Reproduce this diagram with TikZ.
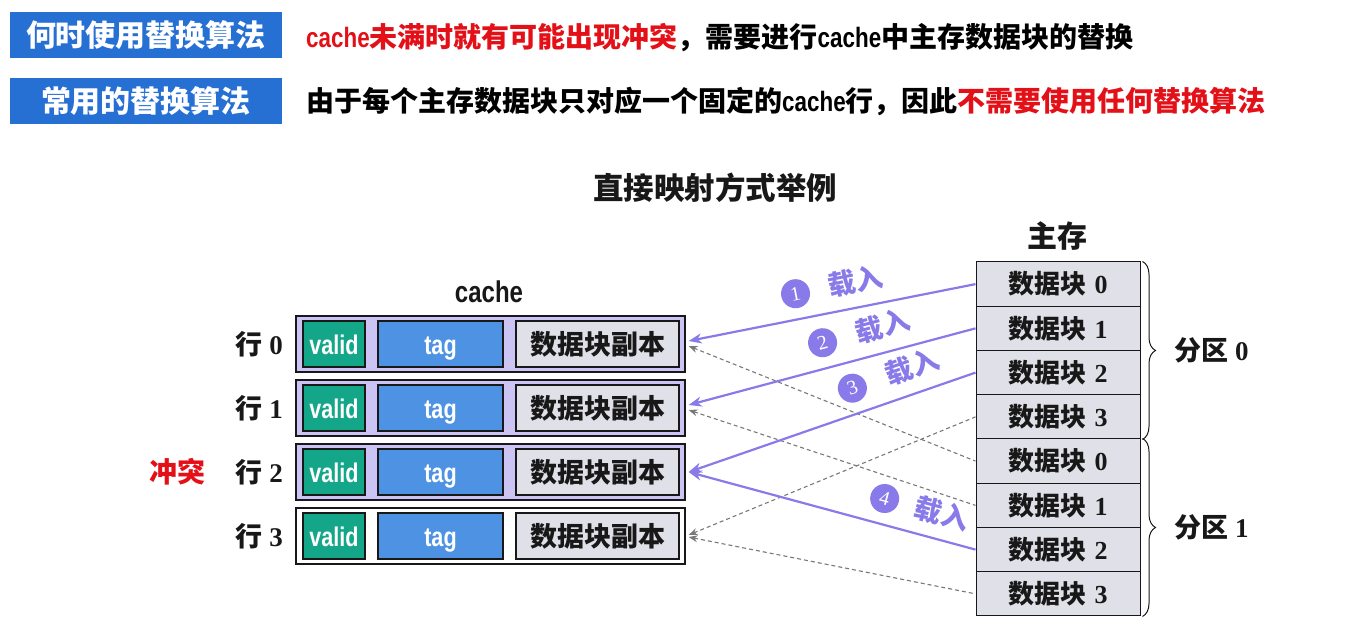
\documentclass[tikz,border=0pt]{standalone}
\usepackage{fontspec}
\setmainfont{Liberation Serif}
\newfontfamily\cjk{Noto Sans CJK SC}
\newfontfamily\narrow{Liberation Sans}[FakeStretch=0.8]
\usetikzlibrary{arrows.meta,decorations.pathreplacing}
\definecolor{bannerblue}{RGB}{38,112,212}
\definecolor{hired}{RGB}{228,16,24}
\definecolor{arrowpurple}{RGB}{136,122,232}
\definecolor{rowfill}{RGB}{204,196,244}
\definecolor{validgreen}{RGB}{20,166,136}
\definecolor{tagblue}{RGB}{78,146,228}
\definecolor{cellgray}{RGB}{224,224,232}
\definecolor{dashgray}{RGB}{120,120,120}
\definecolor{ink}{RGB}{24,24,24}
\newcommand\zh[1]{{\cjk\bfseries #1}}
\newcommand\en[1]{{\narrow\bfseries #1}}
\newcommand\dg[1]{{\rmfamily\bfseries #1}}
\begin{document}
\begin{tikzpicture}[x=1pt,y=-1pt,
  banner/.style={fill=bannerblue,text=white,minimum width=272pt,minimum height=46pt,inner sep=0,font=\fontsize{30}{32}\selectfont\cjk\bfseries},
  rowbox/.style={draw=ink,line width=1.3pt,minimum width=389pt,minimum height=56pt,inner sep=0},
  validbox/.style={draw=ink,line width=1.2pt,fill=validgreen,text=white,minimum width=62pt,minimum height=46pt,inner sep=0,text height=20pt,text depth=0pt,font=\fontsize{27}{28}\selectfont\narrow\bfseries},
  tagbox/.style={draw=ink,line width=1.2pt,fill=tagblue,text=white,minimum width=125pt,minimum height=46pt,inner sep=0,text height=20pt,text depth=0pt,font=\fontsize{27}{28}\selectfont\narrow\bfseries},
  databox/.style={draw=ink,line width=1.2pt,fill=cellgray,text=ink,minimum width=163pt,minimum height=46pt,inner sep=0,font=\fontsize{27}{28}\selectfont\cjk\bfseries},
  memcell/.style={draw=ink,line width=1pt,fill=cellgray,text=ink,minimum width=164pt,minimum height=44.25pt,inner sep=0,font=\fontsize{26}{28}\selectfont},
  loadarrow/.style={{Stealth[length=13pt,width=10pt,inset=4pt]}-,draw=arrowpurple,line width=2.2pt},
  dasharrow/.style={{Stealth[length=9pt,width=7pt,inset=3pt]}-,draw=dashgray,line width=1.1pt,dash pattern=on 4pt off 3pt},
  circnum/.style={circle,fill=arrowpurple,text=white,minimum size=29pt,inner sep=0,font=\fontsize{20}{20}\selectfont\rmfamily,sloped,anchor=south,yshift=10pt},
  loadlbl/.style={text=arrowpurple,inner sep=0,font=\fontsize{27.5}{28}\selectfont\cjk\bfseries,sloped,anchor=south,yshift=12pt},
  lbl/.style={text=ink,inner sep=0,font=\fontsize{27}{28}\selectfont}
]
\useasboundingbox (0,0) rectangle (1350,641);
% header
\node[banner] (b1) at (146,35) {何时使用替换算法};
\node[banner] (b2) at (146,101) {常用的替换算法};
\node[anchor=west,inner sep=0,font=\fontsize{28}{30}\selectfont] (t1) at (306,38)
  {\textcolor{hired}{\en{cache}\zh{未满时就有可能出现冲突}}\zh{，需要进行}\en{cache}\zh{中主存数据块的替换}};
\node[anchor=west,inner sep=0,font=\fontsize{28}{30}\selectfont] (t2) at (306,101)
  {\zh{由于每个主存数据块只对应一个固定的}\en{cache}\zh{行，因此}\textcolor{hired}{\zh{不需要使用任何替换算法}}};
\node[text=ink,font=\fontsize{30.5}{31}\selectfont\cjk\bfseries] (title) at (715,188) {直接映射方式举例};
% cache
\node[text=ink,font=\fontsize{30}{30}\selectfont\narrow\bfseries] (cl) at (489,292) {cache};
\foreach \i/\y/\f in {0/344/rowfill,1/408/rowfill,2/472/rowfill,3/536/white}{
  \node[rowbox,fill=\f] (r\i) at (490.5,\y) {};
  \node[validbox] (v\i) at (334,\y) {valid};
  \node[tagbox] (g\i) at (440.5,\y) {tag};
  \node[databox] (d\i) at (597.5,\y) {数据块副本};
  \node[lbl,anchor=east] (l\i) at (283,\y) {\zh{行}\hspace{7pt}\dg{\i}};
}
\node[text=hired,inner sep=0,font=\fontsize{28}{30}\selectfont\cjk\bfseries] (cf) at (177,472) {冲突};
% main memory
\node[text=ink,font=\fontsize{30}{30}\selectfont\cjk\bfseries] (mt) at (1057,236) {主存};
\foreach \i/\n in {0/0,1/1,2/2,3/3,4/0,5/1,6/2,7/3}{
  \node[memcell] (m\i) at (1058,{284.1+44.25*\i}) {\zh{数据块}\hspace{8pt}\dg{\n}};
}
\draw[ink,line width=1pt,decorate,decoration={brace,amplitude=13pt,aspect=0.5}]
  ([xshift=2pt]m0.north east) -- ([xshift=2pt]m3.south east)
  node[midway,anchor=west,inner sep=0,xshift=31pt,lbl] (p0) {\zh{分区}\hspace{7pt}\dg{0}};
\draw[ink,line width=1pt,decorate,decoration={brace,amplitude=13pt,aspect=0.5}]
  ([xshift=2pt]m4.north east) -- ([xshift=2pt]m7.south east)
  node[midway,anchor=west,inner sep=0,xshift=31pt,lbl] (p1) {\zh{分区}\hspace{7pt}\dg{1}};
% dashed mappings
\draw[dasharrow] ([xshift=3pt,yshift=-2pt]r0.east) -- (m4.west);
\draw[dasharrow] ([xshift=3pt,yshift=-2pt]r1.east) -- (m5.west);
\draw[dasharrow] ([xshift=3pt,yshift=1pt]r3.east) -- (m3.west);
\draw[dasharrow] ([xshift=3pt,yshift=-1pt]r3.east) -- (m7.west);
% load arrows
\draw[loadarrow] ([xshift=3pt,yshift=3pt]r0.east) -- (m0.west)
  node[circnum,pos=0.39] (c1) {1} node[loadlbl,pos=0.60] (z1) {载入};
\draw[loadarrow] ([xshift=3pt,yshift=3pt]r1.east) -- (m1.west)
  node[circnum,pos=0.49] (c2) {2} node[loadlbl,pos=0.70] (z2) {载入};
\draw[loadarrow] ([xshift=3pt]r2.east) -- (m2.west)
  node[circnum,pos=0.60] (c3) {3} node[loadlbl,pos=0.81] (z3) {载入};
\draw[loadarrow] ([xshift=3pt]r2.east) -- (m6.west)
  node[circnum,pos=0.66] (c4) {4} node[loadlbl,pos=0.86] (z4) {载入};
\end{tikzpicture}
\end{document}
